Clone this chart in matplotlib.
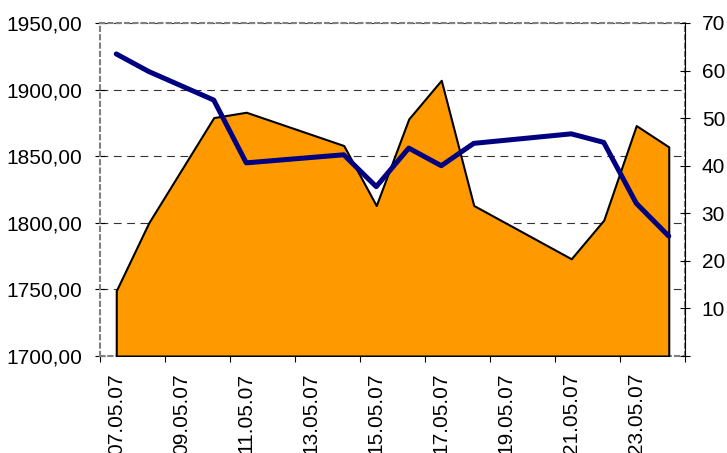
import datetime as dt
import matplotlib
matplotlib.use('Agg')
import matplotlib.pyplot as plt
import matplotlib.dates as mdates
from matplotlib.ticker import FixedLocator, FuncFormatter

plt.rcParams['font.family'] = ['Liberation Sans', 'DejaVu Sans']

# Daten
tage = ['07.05.07', '08.05.07', '10.05.07', '11.05.07', '14.05.07', '15.05.07', '16.05.07',
        '17.05.07', '18.05.07', '21.05.07', '22.05.07', '23.05.07', '24.05.07']
flaeche = [1749, 1800, 1879, 1883, 1858, 1813, 1878, 1907, 1813, 1773, 1802, 1873, 1857]
linie = [63.5, 59.8, 53.8, 40.6, 42.3, 35.6, 43.7, 40.0, 44.7, 46.7, 44.9, 32.1, 25.2]
beschriftung = ['07.05.07', '09.05.07', '11.05.07', '13.05.07', '15.05.07',
                '17.05.07', '19.05.07', '21.05.07', '23.05.07']

x = [dt.datetime.strptime(t, '%d.%m.%y') for t in tage]
halb = dt.timedelta(hours=12)
start = x[0] - halb
ende = x[-1] + halb

fig = plt.figure(figsize=(7.27, 4.53), dpi=100)
ax = fig.add_axes([100 / 727, 1 - 356 / 453, 585 / 727, 333 / 453])

ax.fill_between(x, 1700, flaeche, facecolor='#FF9900', edgecolor='black',
                linewidth=1.5, zorder=3)
ax.set_ylim(1700, 1950)
ax.set_xlim(start, ende)
ax.set_yticks([1700, 1750, 1800, 1850, 1900, 1950])
ax.yaxis.set_major_formatter(FuncFormatter(lambda v, p: f'{v:.2f}'.replace('.', ',')))
ax.set_axisbelow(True)
ax.yaxis.grid(True, color='#333333', linestyle=(0, (7, 5)), linewidth=0.8)

# x-Achse: Striche zwischen den Tagen, Beschriftung in der Mitte
striche = [mdates.date2num(start + dt.timedelta(days=2 * k)) for k in range(10)]
ax.xaxis.set_major_locator(FixedLocator(striche))
ax.xaxis.set_major_formatter(FuncFormatter(lambda v, p: ''))
mitte = [mdates.date2num(dt.datetime.strptime(b, '%d.%m.%y')) for b in beschriftung]
ax.xaxis.set_minor_locator(FixedLocator(mitte))
ax.set_xticklabels(beschriftung, minor=True, rotation=90)
ax.tick_params(axis='x', which='major', direction='out', length=4.5, width=0.8)
ax.tick_params(axis='x', which='minor', length=0, pad=12.2, labelsize=15)
ax.tick_params(axis='y', direction='inout', length=7.2, width=0.8, labelsize=15, pad=9.4)

for s in ax.spines.values():
    s.set_color('#808080')
    s.set_linestyle((0, (2, 2)))
    s.set_linewidth(1.5)

ax2 = ax.twinx()
ax2.plot(x, linie, color='#000080', linewidth=3.6, solid_capstyle='round',
         solid_joinstyle='round', zorder=4)
ax2.set_ylim(0, 70)
ax2.set_yticks([0, 10, 20, 30, 40, 50, 60, 70])
ax2.yaxis.set_major_formatter(FuncFormatter(lambda v, p: '' if v == 0 else f'{v:.0f}'))
ax2.tick_params(axis='y', direction='inout', length=7.2, width=0.8, labelsize=15, pad=8.4)
for name in ['left', 'top', 'bottom']:
    ax2.spines[name].set_visible(False)
ax2.spines['right'].set_color('black')
ax2.spines['right'].set_linewidth(0.8)

fig.savefig('out.png', dpi=100)
